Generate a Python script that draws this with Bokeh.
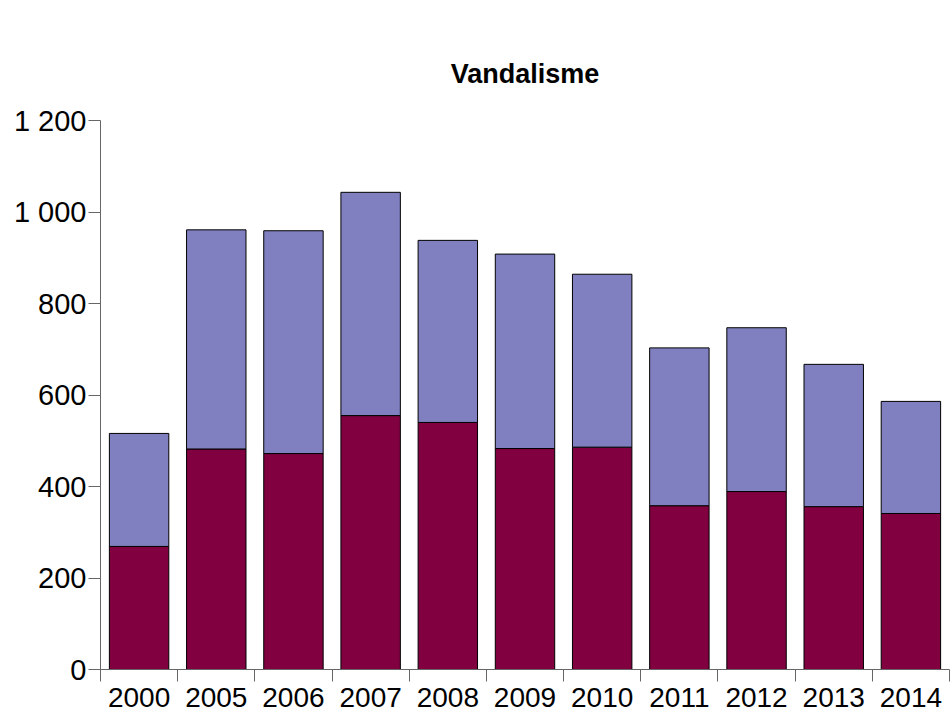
from bokeh.plotting import figure
from bokeh.models import ColumnDataSource, FixedTicker, Range1d
from bokeh.embed import file_html
from bokeh.resources import INLINE

years = ["2000", "2005", "2006", "2007", "2008", "2009", "2010", "2011", "2012", "2013", "2014"]
lower = [269, 482, 472, 555, 540, 483, 486, 358, 389, 356, 341]
upper = [247, 479, 487, 488, 398, 425, 378, 345, 358, 311, 245]
y_ticks = [0, 200, 400, 600, 800, 1000, 1200]
y_tick_labels = ["0", "200", "400", "600", "800", "1 000", "1 200"]

centers = [i + 0.5 for i in range(len(years))]
bounds = [float(i) for i in range(len(years) + 1)]

source = ColumnDataSource(dict(x=centers, lower=lower, upper=upper))

p = figure(width=952, height=713, output_backend="svg", toolbar_location=None,
           x_range=Range1d(0, len(years)), y_range=Range1d(0, 1200),
           min_border_left=100, min_border_right=3, min_border_bottom=44, min_border_top=120)

p.vbar_stack(["lower", "upper"], x="x", width=0.77, color=["#800040", "#8080C0"],
             line_color="black", line_width=1, source=source)

p.title.text = "Vandalisme"
p.title.text_font = "Liberation Sans"
p.title.text_font_size = "27px"
p.title.text_font_style = "bold"
p.title.text_color = "black"
p.title.align = "center"
p.title.standoff = 64

p.xgrid.visible = False
p.ygrid.visible = False
p.outline_line_color = None

xa = p.xaxis[0]
xa.ticker = FixedTicker(ticks=centers, minor_ticks=bounds)
xa.major_label_overrides = {c: y for c, y in zip(centers, years)}
xa.major_tick_out = 0
xa.major_tick_in = 0
xa.minor_tick_out = 12
xa.minor_tick_in = 0
xa.minor_tick_line_color = "#666666"
xa.axis_line_color = "#666666"
xa.major_label_text_font = "Liberation Sans"
xa.major_label_text_font_size = "28px"
xa.major_label_text_color = "black"
xa.major_label_standoff = 6

ya = p.yaxis[0]
ya.ticker = FixedTicker(ticks=y_ticks, minor_ticks=[])
ya.major_label_overrides = {t: l for t, l in zip(y_ticks, y_tick_labels)}
ya.major_tick_out = 12
ya.major_tick_in = 0
ya.minor_tick_out = 0
ya.minor_tick_in = 0
ya.major_tick_line_color = "#666666"
ya.axis_line_color = "#666666"
ya.major_label_text_font = "Liberation Sans"
ya.major_label_text_font_size = "29px"
ya.major_label_text_color = "black"
ya.major_label_standoff = 2

open("out.html", "w").write(file_html(p, INLINE))
